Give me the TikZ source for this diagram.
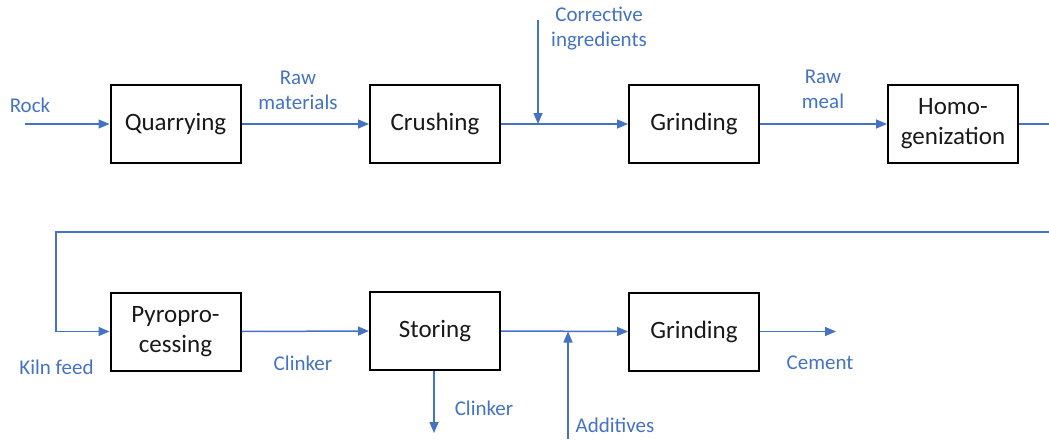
\documentclass[tikz,border=0pt]{standalone}
\usepackage{fontspec}
\setmainfont{Carlito}
\usetikzlibrary{arrows.meta}
\definecolor{flowblue}{HTML}{4472C4}
\tikzset{
  procbox/.style={draw=black, line width=2pt, minimum width=130pt, minimum height=78pt, inner sep=0pt, align=center, font=\fontsize{25}{30}\selectfont, text=black!90},
  flow/.style={draw=flowblue, line width=1.5pt, -{Triangle[length=11pt,width=9pt]}},
  flowline/.style={draw=flowblue, line width=1.5pt},
  lbl/.style={text=flowblue, align=center, inner sep=0pt, font=\fontsize{21}{25}\selectfont}
}
\begin{document}
\begin{tikzpicture}[x=1pt,y=-1pt]
\useasboundingbox (0,0) rectangle (1049,439);
% boxes
\node[procbox] (Q)  at (175.5,124) {Quarrying};
\node[procbox] (C)  at (435,124) {Crushing};
\node[procbox] (G1) at (694,124) {Grinding};
\node[procbox] (H)  at (953,124) {Homo-\\genization};
\node[procbox] (P)  at (175.5,331.5) {Pyropro-\\cessing};
\node[procbox] (S)  at (435,331) {Storing};
\node[procbox] (G2) at (694,331.5) {Grinding};
% coordinates
\coordinate (rock) at (25,124);
\coordinate (corrTop) at (538,20);
\coordinate (corrJoin) at (538,124);
\coordinate (hEdge) at (1049,124);
\coordinate (rEdge) at (1049,232);
\coordinate (rCorner) at (56,232);
\coordinate (cemEnd) at (836,331.5);
\coordinate (clkEnd) at (434,433);
\coordinate (addBot) at (568,439);
\coordinate (addJoin) at (568,331.5);
% connectors
\draw[flow] (rock) -- (Q.west);
\draw[flow] (Q.east) -- (C.west);
\draw[flow] (C.east) -- (G1.west);
\draw[flow] (corrTop) -- (corrJoin);
\draw[flow] (G1.east) -- (H.west);
\draw[flowline] (H.east) -- (hEdge);
\draw[flow] (rEdge) -- (rCorner) |- (P.west);
\draw[flow] (P.east) -- (S.west);
\draw[flow] (S.east) -- (G2.west);
\draw[flow] (addBot) -- (addJoin);
\draw[flow] (G2.east) -- (cemEnd);
\draw[flow] (S.south -| clkEnd) -- (clkEnd);
% labels
\node[lbl] (lrock) at (30,105) {Rock};
\node[lbl] (lraw) at (298,90) {Raw\\materials};
\node[lbl] (lcorr) at (599,29) {Corrective\\ingredients};
\node[lbl] (lmeal) at (823,89) {Raw\\meal};
\node[lbl] (lkiln) at (56.5,367) {Kiln feed};
\node[lbl] (lclk) at (303,363) {Clinker};
\node[lbl] (lclk2) at (484,408) {Clinker};
\node[lbl] (ladd) at (615,425) {Additives};
\node[lbl] (lcem) at (820,363) {Cement};
\end{tikzpicture}
\end{document}
